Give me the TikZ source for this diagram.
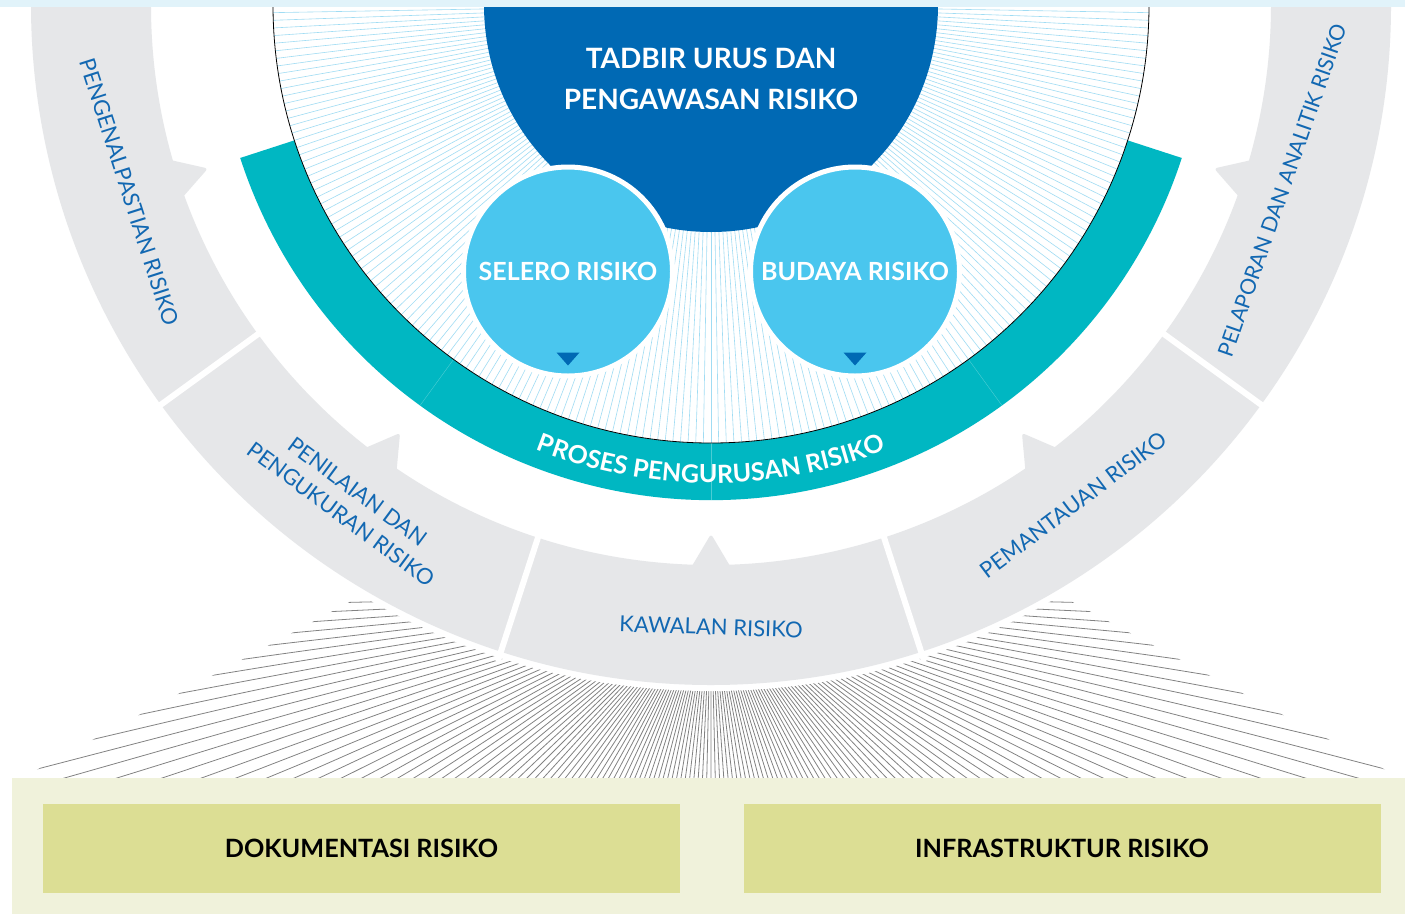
\documentclass[tikz,border=0pt]{standalone}
\usepackage{fontspec}
\setmainfont{Lato}
\usetikzlibrary{decorations.text}

\definecolor{topstrip}{RGB}{225,243,250}
\definecolor{darkblue}{RGB}{0,105,180}
\definecolor{circleblue}{RGB}{74,198,238}
\definecolor{bandteal}{RGB}{0,183,194}
\definecolor{ringgray}{RGB}{230,231,233}
\definecolor{labelblue}{RGB}{18,104,178}
\definecolor{hatchblue}{RGB}{160,220,243}
\definecolor{raygray}{RGB}{130,130,130}
\definecolor{palegreen}{RGB}{240,242,219}
\definecolor{boxgreen}{RGB}{220,222,148}

\begin{document}
\begin{tikzpicture}[x=1pt,y=-1pt,line width=.5pt,
  lbl/.style={text=labelblue,inner sep=0pt,font=\fontsize{22}{28}\selectfont},
  hd/.style={text=white,inner sep=0pt,font=\bfseries\fontsize{25}{30}\selectfont},
  bubble/.style={circle,fill=circleblue,draw=white,line width=5pt,minimum size=209pt,inner sep=0pt},
  box/.style={fill=boxgreen,minimum width=637pt,minimum height=89pt,inner sep=0pt,font=\bfseries\fontsize{25.2}{30}\selectfont}]
\path[use as bounding box] (0,0) rectangle (1405,914);
\clip (0,0) rectangle (1405,914);
\begin{scope}
\clip (372,590) -- (14,782) -- (1408,782) -- (1050,590) -- cycle;
\foreach \i [evaluate=\i as \ang using \i*1.3235] in {1,...,135}
  \draw[raygray,line width=.8pt] (711,594) -- ++(\ang:800);
\end{scope}
\begin{scope}[shift={(711,5)}]
\fill[white] (0,0) circle[radius=686];
\fill[ringgray] (-2:680) arc[start angle=-2,end angle=182,radius=680] -- (182:560) arc[start angle=182,end angle=-2,radius=560] -- cycle;
\foreach \a in {18,54,90,126,162}
  \fill[ringgray,rounded corners=3pt] (\a-2.2:566) -- (\a:529) -- (\a+2.2:566) -- cycle;
\foreach \a in {36,72,108,144}
  \draw[white,line width=6pt] (\a:550) -- (\a:690);
\fill[bandteal] (18:438) arc[start angle=18,end angle=162,radius=438] -- (162:495) arc[start angle=162,end angle=18,radius=495] -- cycle;
\foreach \a in {54,90,126}
  \draw[bandteal!70!white,line width=.4pt] (\a:438) -- (\a:495);
\path[decorate,decoration={text along path,text align=center,
  text={|\color{white}\bfseries\fontsize{25}{25}\selectfont|PROSES PENGURUSAN RISIKO}}]
  (125:478) arc[start angle=125,end angle=55,radius=478];
\fill[white] (0,0) circle[radius=438];
\foreach \a in {0,...,180}
  \draw[hatchblue,line width=.6pt] (0,0) -- (\a:438);
\draw[line width=.8pt] (0:438) arc[start angle=0,end angle=180,radius=438];
\fill[darkblue] (0,0) circle[radius=227];
\end{scope}
\node[bubble] (selero) at (568,271.5) {};
\node[bubble] (budaya) at (855,271.5) {};
\node[hd] at (selero) {SELERO RISIKO};
\node[hd] at (budaya) {BUDAYA RISIKO};
\fill[darkblue] ([yshift=13pt]selero.south) -- ++(-11.5,-13) -- ++(23,0) -- cycle;
\fill[darkblue] ([yshift=13pt]budaya.south) -- ++(-11.5,-13) -- ++(23,0) -- cycle;
\node[hd,align=center,font=\bfseries\fontsize{28}{41}\selectfont] (tadbir) at (711,79) {TADBIR URUS DAN\\PENGAWASAN RISIKO};
\node[lbl,rotate=-72.2] (kenal) at (129,192) {PENGENALPASTIAN RISIKO};
\node[lbl,rotate=-36.5,align=center] (nilai) at (349.5,503) {PENILAIAN DAN\\PENGUKURAN RISIKO};
\node[lbl,rotate=-2] (kawal) at (711,627) {KAWALAN RISIKO};
\node[lbl,rotate=36.9] (pantau) at (1073,505) {PEMANTAUAN RISIKO};
\node[lbl,rotate=70.8,font=\fontsize{21.4}{26}\selectfont] (lapor) at (1282,190) {PELAPORAN DAN ANALITIK RISIKO};
\fill[palegreen] (12,778) rectangle (1405,914);
\node[box] (dokumen) at (361.5,848.5) {DOKUMENTASI RISIKO};
\node[box] (infra) at (1062,848.5) {INFRASTRUKTUR RISIKO};
\fill[topstrip] (0,0) rectangle (1405,7);
\end{tikzpicture}
\end{document}
